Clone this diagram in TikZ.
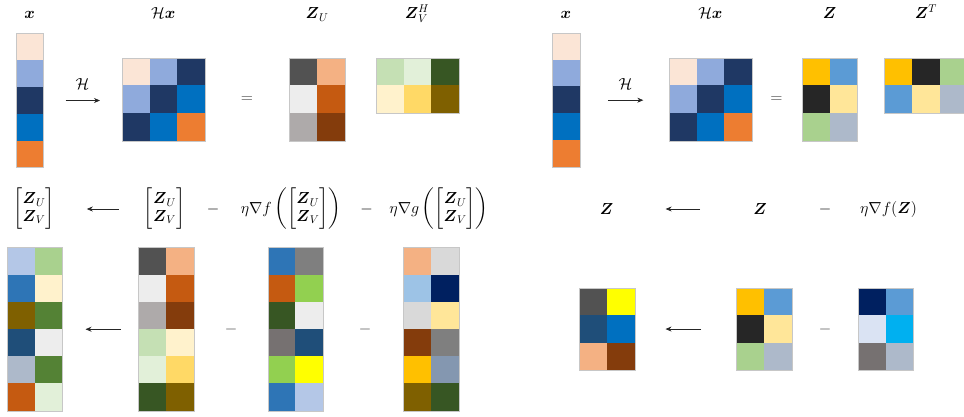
\RequirePackage{fix-cm}
\documentclass[tikz,border=0pt]{standalone}
\usepackage{amsmath}
\usetikzlibrary{arrows.meta}
\definecolor{xfbe5d6}{HTML}{FBE5D6}
\definecolor{x8faadc}{HTML}{8FAADC}
\definecolor{x1f3864}{HTML}{1F3864}
\definecolor{x0070c0}{HTML}{0070C0}
\definecolor{xed7d31}{HTML}{ED7D31}
\definecolor{x525252}{HTML}{525252}
\definecolor{xf4b183}{HTML}{F4B183}
\definecolor{xededed}{HTML}{EDEDED}
\definecolor{xc55a11}{HTML}{C55A11}
\definecolor{xaeaaaa}{HTML}{AEAAAA}
\definecolor{x843c0c}{HTML}{843C0C}
\definecolor{xc5e0b4}{HTML}{C5E0B4}
\definecolor{xe2f0d9}{HTML}{E2F0D9}
\definecolor{x375623}{HTML}{375623}
\definecolor{xfff2cc}{HTML}{FFF2CC}
\definecolor{xffd966}{HTML}{FFD966}
\definecolor{x7f6000}{HTML}{7F6000}
\definecolor{xffc000}{HTML}{FFC000}
\definecolor{x5b9bd5}{HTML}{5B9BD5}
\definecolor{x262626}{HTML}{262626}
\definecolor{xffe699}{HTML}{FFE699}
\definecolor{xa9d18e}{HTML}{A9D18E}
\definecolor{xadb9ca}{HTML}{ADB9CA}
\definecolor{xb4c7e7}{HTML}{B4C7E7}
\definecolor{x2e75b6}{HTML}{2E75B6}
\definecolor{x548235}{HTML}{548235}
\definecolor{x1f4e79}{HTML}{1F4E79}
\definecolor{x7f7f7f}{HTML}{7F7F7F}
\definecolor{x92d050}{HTML}{92D050}
\definecolor{x767171}{HTML}{767171}
\definecolor{xffff00}{HTML}{FFFF00}
\definecolor{xd9d9d9}{HTML}{D9D9D9}
\definecolor{x9dc3e6}{HTML}{9DC3E6}
\definecolor{x002060}{HTML}{002060}
\definecolor{x8497b0}{HTML}{8497B0}
\definecolor{xdae3f3}{HTML}{DAE3F3}
\definecolor{x00b0f0}{HTML}{00B0F0}
% #1 name, #2 left, #3 top, #4 cols, #5 rows, #6 cell width, #7 cell height, #8 colours (row-major)
\newcommand\mymat[8]{%
  \foreach \cc [count=\i from 0] in {#8}{%
    \pgfmathsetmacro\cx{#2+mod(\i,#4)*#6}%
    \pgfmathsetmacro\cy{#3+div(\i,#4)*#7}%
    \fill[\cc] (\cx,\cy) rectangle ++(#6,#7);
  }
  \node[matbox, anchor=north west, minimum width={#4*#6}, minimum height={#5*#7}] (#1) at (#2,#3) {};
}
\newcommand\ZUV{\begin{bmatrix}\boldsymbol{Z}_U\\ \boldsymbol{Z}_V\end{bmatrix}}
\begin{document}
\begin{tikzpicture}[x=1pt,y=-1pt,
  lbl/.style={font=\fontsize{16}{19}\selectfont, inner sep=0pt},
  opm/.style={font=\fontsize{16}{19}\selectfont, inner sep=0pt, text=black!75},
  matbox/.style={draw=black!22, line width=0.5pt, inner sep=0pt},
  arr/.style={draw=black!85, line width=0.7pt, -{Stealth[length=6pt,width=5pt]}},
]
\useasboundingbox (0,0) rectangle (964,417);
\renewcommand\arraystretch{0.92}
% ---------- top left ----------
\mymat{xL}{16}{33}{1}{5}{27.3}{26.9}{xfbe5d6,x8faadc,x1f3864,x0070c0,xed7d31}
\mymat{HxL}{122}{57.7}{3}{3}{27.5}{27.7}{xfbe5d6,x8faadc,x1f3864,x8faadc,x1f3864,x0070c0,x1f3864,x0070c0,xed7d31}
\mymat{ZU}{289}{57.7}{2}{3}{27.8}{27.7}{x525252,xf4b183,xededed,xc55a11,xaeaaaa,x843c0c}
\mymat{ZVH}{375.7}{57.7}{3}{2}{27.8}{27.8}{xc5e0b4,xe2f0d9,x375623,xfff2cc,xffd966,x7f6000}
\node[lbl, anchor=base] (lxL) at (29.6,19) {$\boldsymbol{x}$};
\node[lbl, anchor=base] (lHxL) at (163.3,19) {$\mathcal{H}\boldsymbol{x}$};
\node[lbl, anchor=base] (lZU) at (317,19) {$\boldsymbol{Z}_U$};
\node[lbl, anchor=base] (lZVH) at (417,19) {$\boldsymbol{Z}_V^H$};
\node[lbl] (hL) at (82.5,84) {$\mathcal{H}$};
\draw[arr, shorten <=21.7pt, shorten >=22pt] (xL.east) -- (xL.east -| HxL.west);
\node[opm] (eqL) at (247,100) {$=$};
% ---------- top right ----------
\mymat{xR}{551.7}{32.7}{1}{5}{28.1}{26.9}{xfbe5d6,x8faadc,x1f3864,x0070c0,xed7d31}
\mymat{HxR}{669}{57.7}{3}{3}{27.6}{27.7}{xfbe5d6,x8faadc,x1f3864,x8faadc,x1f3864,x0070c0,x1f3864,x0070c0,xed7d31}
\mymat{ZR}{801.7}{57.7}{2}{3}{27.8}{27.7}{xffc000,x5b9bd5,x262626,xffe699,xa9d18e,xadb9ca}
\mymat{ZTR}{884.3}{57.7}{3}{2}{27.8}{27.8}{xffc000,x262626,xa9d18e,x5b9bd5,xffe699,xadb9ca}
\node[lbl, anchor=base] (lxR) at (565.8,19) {$\boldsymbol{x}$};
\node[lbl, anchor=base] (lHxR) at (710.4,19) {$\mathcal{H}\boldsymbol{x}$};
\node[lbl, anchor=base] (lZR) at (829.5,19) {$\boldsymbol{Z}$};
\node[lbl, anchor=base] (lZTR) at (926,19) {$\boldsymbol{Z}^T$};
\node[lbl] (hR) at (625.5,84) {$\mathcal{H}$};
\draw[arr, shorten <=27.6pt, shorten >=25.7pt] (xR.east) -- (xR.east -| HxR.west);
\node[opm] (eqR) at (776.5,100) {$=$};
% ---------- bottom left formula ----------
\node[lbl] (f1) at (34,209) {$\ZUV$};
\node[lbl] (f2) at (164.5,209) {$\ZUV$};
\node[lbl] (fm1) at (213,209) {$-$};
\node[lbl] (f3) at (291,209) {$\eta\nabla f\left(\ZUV\right)$};
\node[lbl] (fm2) at (366.5,209) {$-$};
\node[lbl] (f4) at (439,209) {$\eta\nabla g\left(\ZUV\right)$};
\draw[arr, shorten <=25pt, shorten >=32pt] (f2.west) -- (f2.west -| f1.east);
% ---------- bottom left matrices ----------
\mymat{BL1}{6.7}{247.3}{2}{6}{27.8}{27.23}{xb4c7e7,xa9d18e,x2e75b6,xfff2cc,x7f6000,x548235,x1f4e79,xededed,xadb9ca,x548235,xc55a11,xe2f0d9}
\mymat{BL2}{138.3}{247.3}{2}{6}{27.85}{27.23}{x525252,xf4b183,xededed,xc55a11,xaeaaaa,x843c0c,xc5e0b4,xfff2cc,xe2f0d9,xffd966,x375623,x7f6000}
\mymat{BL3}{267.7}{247.3}{2}{6}{27.5}{27.23}{x2e75b6,x7f7f7f,xc55a11,x92d050,x375623,xededed,x767171,x1f4e79,x92d050,xffff00,x2e75b6,xb4c7e7}
\mymat{BL4}{403.3}{247.3}{2}{6}{28}{27.23}{xf4b183,xd9d9d9,x9dc3e6,x002060,xd9d9d9,xffe699,x843c0c,x7f7f7f,xffc000,x8497b0,x7f6000,x375623}
\draw[arr, shorten <=17.6pt, shorten >=22.7pt] (BL2.west) -- (BL1.east);
\node[opm] (bm1) at (231,329) {$-$};
\node[opm] (bm2) at (365,329) {$-$};
% ---------- bottom right formula ----------
\node[lbl] (g1) at (606.7,209) {$\boldsymbol{Z}$};
\node[lbl] (g2) at (760,209) {$\boldsymbol{Z}$};
\node[lbl] (gm) at (825,209) {$-$};
\node[lbl] (g3) at (888.5,209) {$\eta\nabla f(\boldsymbol{Z})$};
\draw[arr, shorten <=53pt, shorten >=52pt] (g2.west) -- (g2.west -| g1.east);
% ---------- bottom right matrices ----------
\mymat{BR1}{579.3}{287.7}{2}{3}{27.7}{27.4}{x525252,xffff00,x1f4e79,x0070c0,xf4b183,x843c0c}
\mymat{BR2}{736}{287.7}{2}{3}{27.85}{27.4}{xffc000,x5b9bd5,x262626,xffe699,xa9d18e,xadb9ca}
\mymat{BR3}{858.3}{287.7}{2}{3}{27.2}{27.4}{x002060,x5b9bd5,xdae3f3,x00b0f0,x767171,xadb9ca}
\draw[arr, shorten <=35pt, shorten >=30.3pt] (BR2.west) -- (BR1.east);
\node[opm] (bm3) at (825,329) {$-$};
\end{tikzpicture}
\end{document}
